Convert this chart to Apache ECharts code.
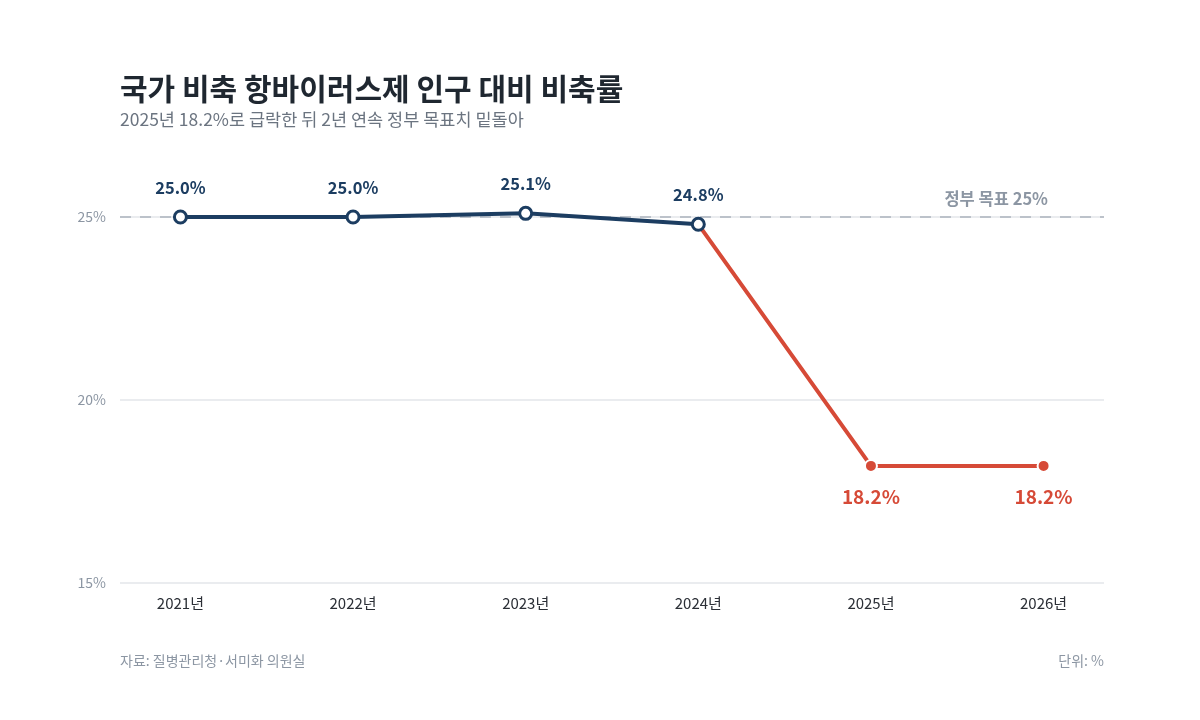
<!DOCTYPE html>
<html><head><meta charset="utf-8">
<script src="https://cdn.jsdelivr.net/npm/echarts@6/dist/echarts.min.js"></script>
<style>html,body{margin:0;padding:0;background:#fff}#c{width:1200px;height:720px}</style>
</head><body><div id="c"></div>
<script>
const years = ['2021년','2022년','2023년','2024년','2025년','2026년'];
const stockRate = [25.0, 25.0, 25.1, 24.8, 18.2, 18.2];
const targetRate = 25;
const yTicks = [15, 20, 25];
const titleText = '국가 비축 항바이러스제 인구 대비 비축률';
const subtitleText = '2025년 18.2%로 급락한 뒤 2년 연속 정부 목표치 밑돌아';
const sourceText = '자료: 질병관리청·서미화 의원실';
const unitText = '단위: %';

const FONT = '"Noto Sans CJK KR", "Noto Sans", sans-serif';
const NAVY = '#1c3d61';
const RED = '#d64a37';
const splitIdx = 3;

const navyData = stockRate.map((v, i) => i <= splitIdx ? [i, v] : [i, null]);
const redData = stockRate.map((v, i) => {
  if (i < splitIdx) return [i, null];
  if (i === splitIdx) return { value: [i, v], symbol: 'none', label: { show: false } };
  return [i, v];
});

const chart = echarts.init(document.getElementById('c'));
chart.setOption({
  backgroundColor: '#fff',
  textStyle: { fontFamily: FONT },
  animation: false,
  title: {
    text: titleText, subtext: subtitleText, left: 115, top: 69,
    textStyle: { fontFamily: FONT, fontSize: 30, fontWeight: 'bold', color: '#1f2730' },
    subtextStyle: { fontFamily: FONT, fontSize: 17.5, color: '#6b7480' },
    itemGap: 7
  },
  grid: { left: 120, right: 96, top: 143.8, bottom: 137, containLabel: false },
  xAxis: {
    type: 'value', min: -0.35, max: 5.35,
    axisLine: { show: false }, axisTick: { show: false }, splitLine: { show: false },
    axisLabel: {
      showMinLabel: false, showMaxLabel: false, margin: 13,
      fontFamily: FONT, fontSize: 15, color: '#2b2f36',
      formatter: v => Number.isInteger(v) && years[v] ? years[v] : ''
    }
  },
  yAxis: {
    type: 'value', min: 15, max: 27, interval: 5,
    axisLine: { show: false }, axisTick: { show: false },
    splitLine: { show: true, showMaxLine: false, lineStyle: { color: '#e3e6ea', width: 1.5 } },
    axisLabel: {
      showMaxLabel: false, margin: 14, fontFamily: FONT, fontSize: 14, color: '#8c96a3',
      formatter: v => yTicks.includes(v) ? v + '%' : ''
    }
  },
  series: [
    {
      type: 'line', data: redData, z: 2, connectNulls: false,
      lineStyle: { color: RED, width: 4 },
      symbol: 'circle', symbolSize: 12,
      itemStyle: { color: RED, borderColor: '#fff', borderWidth: 2 },
      label: {
        show: true, position: 'bottom', distance: 14,
        fontFamily: FONT, fontSize: 19, fontWeight: 'bold', color: RED,
        formatter: p => p.value[1].toFixed(1) + '%'
      },
      markLine: {
        silent: true, symbol: 'none', z: 1,
        lineStyle: { color: '#bcc2ca', width: 2, type: [11, 9] },
        label: {
          show: true, position: 'insideEndTop', distance: [56, 10],
          formatter: '정부 목표 ' + targetRate + '%',
          fontFamily: FONT, fontSize: 16.5, fontWeight: 'bold', color: '#8c96a3'
        },
        data: [{ yAxis: targetRate }]
      }
    },
    {
      type: 'line', data: navyData, z: 3, connectNulls: false,
      lineStyle: { color: NAVY, width: 4 },
      symbol: 'circle', symbolSize: 12,
      itemStyle: { color: '#fff', borderColor: NAVY, borderWidth: 3 },
      label: {
        show: true, position: 'top', distance: 14,
        fontFamily: FONT, fontSize: 16.5, fontWeight: 'bold', color: NAVY,
        formatter: p => p.value[1].toFixed(1) + '%'
      }
    }
  ],
  graphic: [
    { type: 'text', left: 120, top: 654, style: { text: sourceText, fontFamily: FONT, fontSize: 14, fill: '#8c96a3' } },
    { type: 'text', right: 96, top: 654, style: { text: unitText, fontFamily: FONT, fontSize: 14, fill: '#8c96a3' } }
  ]
});
</script></body></html>
